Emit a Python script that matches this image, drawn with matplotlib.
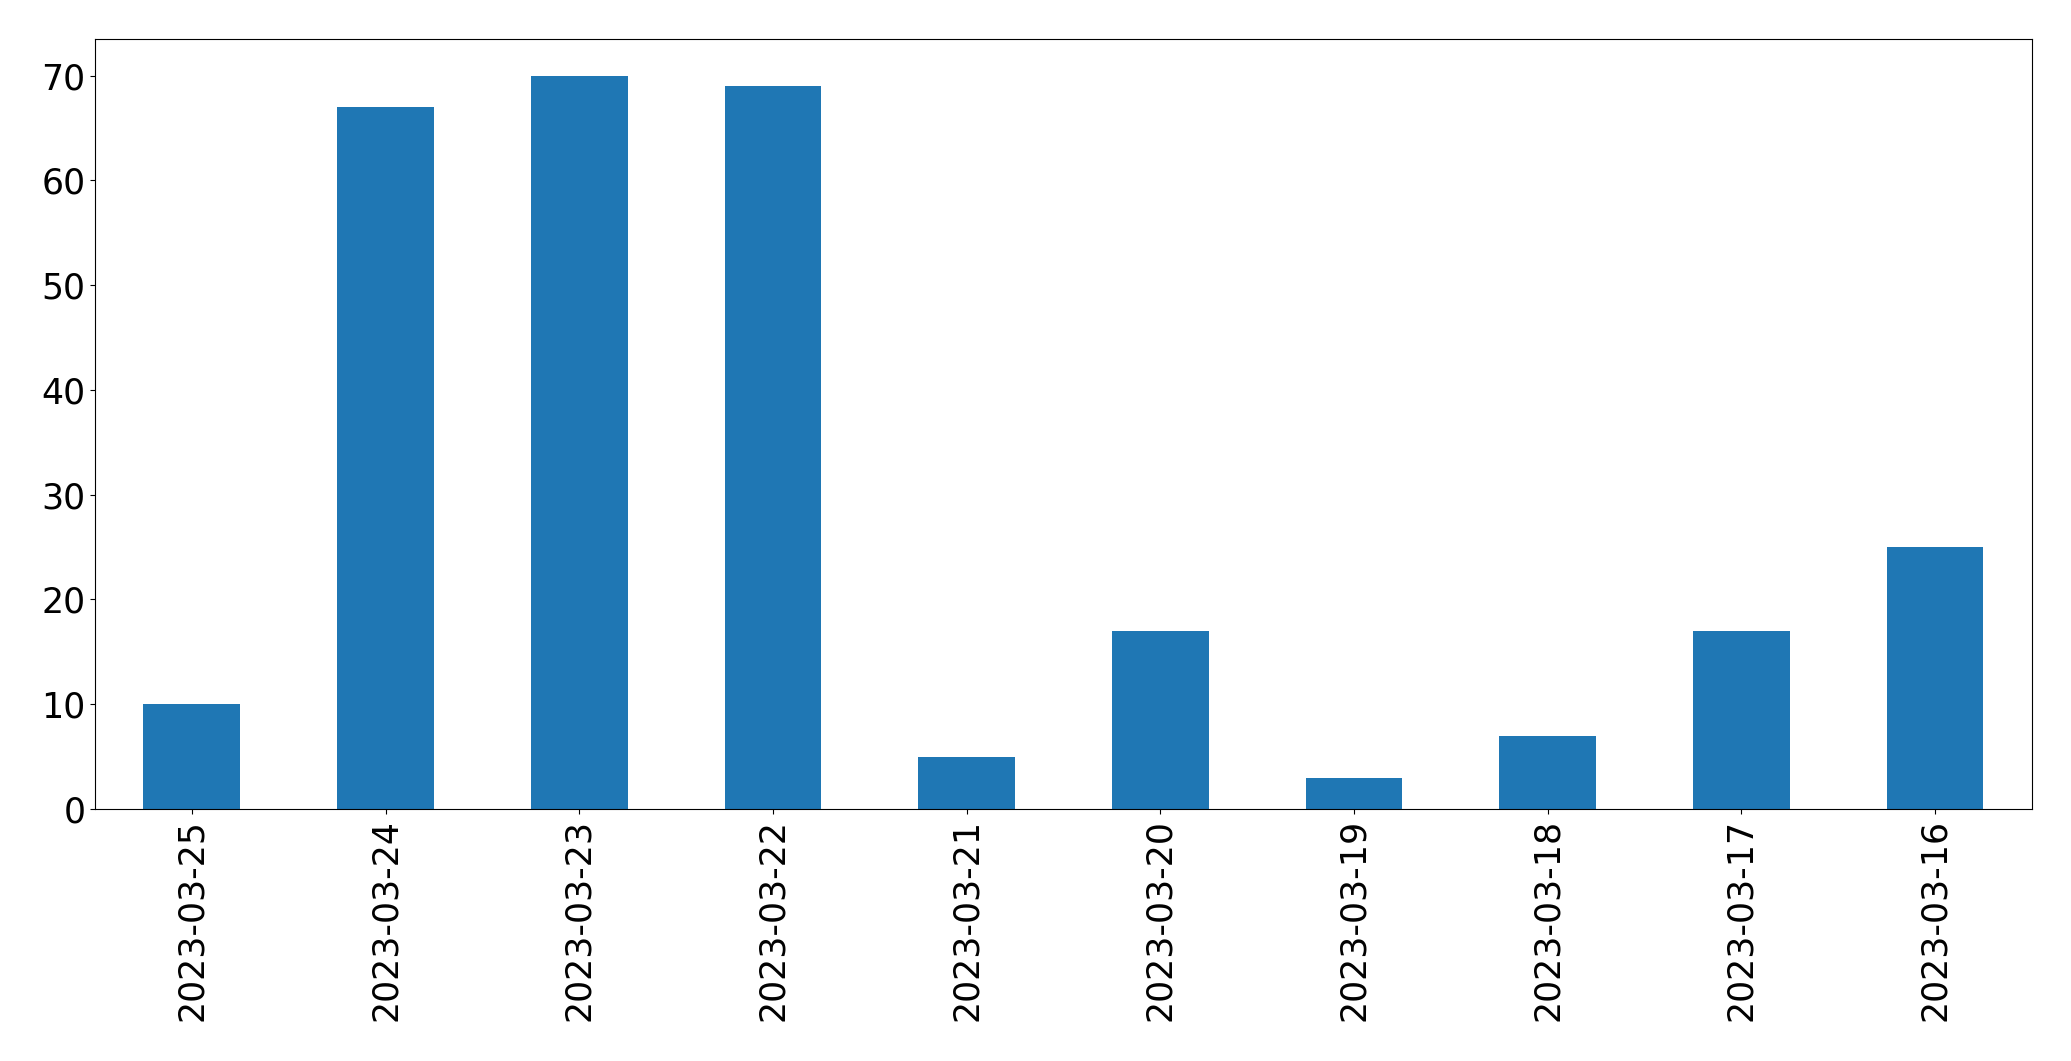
import matplotlib
matplotlib.use("Agg")
import matplotlib.pyplot as plt
import pandas as pd

dates = ["2023-03-25", "2023-03-24", "2023-03-23", "2023-03-22", "2023-03-21",
         "2023-03-20", "2023-03-19", "2023-03-18", "2023-03-17", "2023-03-16"]
counts = [10, 67, 70, 69, 5, 17, 3, 7, 17, 25]

s = pd.Series(counts, index=dates)

fig = plt.figure(figsize=(20.71, 10.61), dpi=100)
ax = fig.add_axes([0.0459, 0.2375, 0.9352, 0.7257])
s.plot(kind="bar", ax=ax, color="#1f77b4", fontsize=25)
ax.tick_params(axis="x", labelrotation=90)

fig.savefig("out.png", dpi=100)
